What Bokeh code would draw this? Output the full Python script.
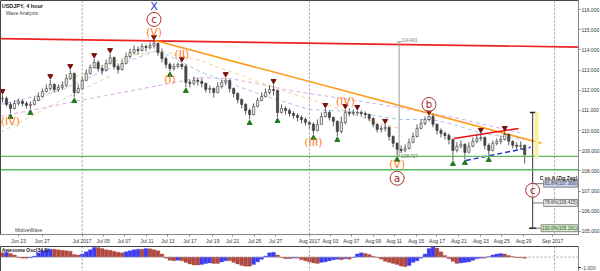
import numpy as np
from bokeh.plotting import figure
from bokeh.layouts import column
from bokeh.models import (Range1d, FixedTicker, Label, Span, ColumnDataSource,
                          BoxAnnotation, NumeralTickFormatter, CustomJSTickFormatter)
from bokeh.core.properties import value
from bokeh.embed import file_html
from bokeh.resources import INLINE

# ---------------- data (USDJPY 4h) ----------------
close = [111.59, 111.30, 111.10, 111.35, 111.45, 111.35, 111.25, 111.30, 111.50, 111.69,
         111.94, 112.09, 112.29, 112.04, 112.14, 112.24, 112.58, 112.83, 111.89, 112.09,
         112.49, 112.83, 113.13, 113.38, 113.08, 112.98, 113.33, 113.62, 113.18, 113.03,
         113.33, 113.67, 113.87, 114.02, 113.97, 114.17, 114.12, 114.22, 114.32, 113.87,
         113.57, 113.28, 113.08, 113.18, 113.28, 113.18, 112.39, 112.34, 112.49, 112.44,
         112.34, 112.04, 112.09, 111.89, 112.19, 112.39, 112.49, 112.09, 111.84, 111.54,
         111.30, 111.00, 110.80, 111.20, 111.50, 111.69, 111.89, 112.04, 111.99, 110.90,
         111.10, 111.00, 110.85, 110.75, 110.65, 110.55, 110.41, 110.31, 110.01, 110.31,
         110.70, 110.90, 110.65, 110.46, 109.96, 110.41, 110.90, 110.85, 110.90, 110.90,
         110.85, 110.80, 110.60, 110.31, 110.06, 110.11, 110.16, 109.71, 109.37, 109.07,
         109.02, 109.12, 109.42, 109.71, 110.11, 110.36, 110.55, 110.70, 110.31, 110.01,
         109.86, 109.76, 109.56, 109.02, 109.22, 109.32, 108.92, 109.22, 109.47, 109.61,
         109.66, 109.27, 109.02, 109.37, 109.47, 109.56, 109.81, 109.47, 109.27, 109.22,
         109.27, 108.82]
high = [111.79, 111.69, 111.40, 111.50, 111.59, 111.54, 111.45, 111.45, 111.69, 111.89,
        112.09, 112.29, 112.53, 112.34, 112.29, 112.44, 112.78, 113.03, 112.88, 112.29,
        112.68, 113.03, 113.28, 113.57, 113.48, 113.23, 113.52, 113.82, 113.67, 113.33,
        113.52, 113.87, 114.07, 114.22, 114.17, 114.32, 114.27, 114.37, 114.47, 114.37,
        114.07, 113.67, 113.38, 113.33, 113.38, 113.38, 113.28, 112.53, 112.68, 112.63,
        112.58, 112.39, 112.24, 112.14, 112.39, 112.53, 112.63, 112.53, 112.14, 111.89,
        111.59, 111.35, 111.10, 111.35, 111.64, 111.89, 112.09, 112.24, 112.29, 112.04,
        111.30, 111.20, 111.10, 110.95, 110.85, 110.75, 110.65, 110.50, 110.41, 110.55,
        110.90, 111.10, 111.00, 110.70, 110.50, 110.70, 111.05, 111.10, 111.05, 111.00,
        111.00, 110.95, 110.85, 110.65, 110.36, 110.26, 110.31, 110.21, 109.76, 109.42,
        109.27, 109.32, 109.61, 109.91, 110.31, 110.55, 110.70, 110.75, 110.85, 110.36,
        110.11, 109.96, 109.86, 109.61, 109.42, 109.51, 109.37, 109.42, 109.66, 109.81,
        109.86, 109.71, 109.37, 109.51, 109.61, 109.76, 109.96, 109.86, 109.51, 109.42,
        109.47, 109.32]
low = [111.40, 111.20, 110.85, 111.05, 111.25, 111.20, 111.10, 111.05, 111.25, 111.45,
       111.64, 111.89, 111.99, 111.89, 111.94, 112.04, 112.14, 112.53, 111.64, 111.84,
       112.04, 112.44, 112.78, 113.08, 112.93, 112.78, 112.93, 113.28, 113.03, 112.83,
       112.98, 113.28, 113.57, 113.77, 113.77, 113.92, 113.92, 114.02, 114.07, 113.72,
       113.38, 113.08, 112.93, 112.98, 113.08, 113.03, 112.14, 112.14, 112.24, 112.24,
       112.14, 111.89, 111.84, 111.64, 111.84, 112.09, 112.24, 111.89, 111.64, 111.35,
       111.10, 110.80, 110.55, 110.75, 111.15, 111.45, 111.64, 111.79, 111.74, 110.65,
       110.85, 110.80, 110.70, 110.60, 110.46, 110.36, 110.26, 110.11, 109.81, 109.96,
       110.31, 110.65, 110.50, 110.21, 109.71, 109.86, 110.31, 110.70, 110.75, 110.75,
       110.70, 110.60, 110.46, 110.16, 109.91, 109.91, 109.96, 109.51, 109.17, 108.73,
       108.87, 108.92, 109.07, 109.37, 109.66, 110.06, 110.26, 110.46, 110.16, 109.81,
       109.66, 109.56, 109.32, 108.52, 108.92, 109.12, 108.57, 108.87, 109.17, 109.37,
       109.47, 109.07, 108.72, 108.97, 109.27, 109.32, 109.51, 109.27, 109.12, 109.07,
       109.07, 108.37]
awesome_osc = [0.4, 0.45, 0.35, 0.2, -0.05, -0.1, -0.1, -0.05, 0.1, 0.4,
               0.6, 0.7, 0.75, 0.75, 0.7, 0.65, 0.6, 0.55, 0.25, 0.2,
               0.3, 0.5, 0.7, 0.9, 0.9, 0.8, 0.7, 0.65, 0.55, 0.45,
               0.4, 0.5, 0.6, 0.7, 0.75, 0.75, 0.8, 0.78, 0.7, 0.6,
               0.3, -0.1, -0.3, -0.35, -0.3, -0.35, -0.5, -0.65, -0.75, -0.75,
               -0.7, -0.6, -0.55, -0.6, -0.6, -0.45, -0.35, -0.35, -0.5, -0.65,
               -0.8, -0.85, -0.85, -0.7, -0.45, -0.2, 0.1, 0.4, 0.45, 0.2,
               -0.05, -0.15, -0.15, -0.1, -0.1, -0.25, -0.35, -0.45, -0.55, -0.6,
               -0.5, -0.45, -0.35, -0.25, -0.2, -0.25, -0.15, -0.2, -0.05, 0.3,
               0.4, 0.35, 0.25, 0.1, -0.05, -0.2, -0.4, -0.5, -0.6, -0.7,
               -0.85, -0.9, -0.8, -0.5, -0.35, -0.1, 0.3, 0.8, 1.05, 0.85,
               0.5, 0.15, -0.15, -0.4, -0.6, -0.55, -0.5, -0.45, -0.3, -0.15,
               -0.1, -0.1, 0.05, 0.2, 0.3, 0.35, 0.3, 0.15, 0.05, -0.05,
               -0.05, -0.1]

date_tick_pos = [4, 10, 20, 25.25, 30.5, 36.25, 41.5, 47, 52.75, 57.75, 63.25, 68.5,
                 77, 82.25, 87.5, 93, 98.25, 103.75, 109, 114.5, 120, 125.25, 130.75, 138]
date_tick_labels = ["Jun 23", "Jun 27", "Jul 2017", "Jul 05", "Jul 07", "Jul 11", "Jul 13",
                    "Jul 17", "Jul 19", "Jul 21", "Jul 25", "Jul 27", "Aug 2017", "Aug 03",
                    "Aug 07", "Aug 09", "Aug 11", "Aug 15", "Aug 17", "Aug 21", "Aug 23",
                    "Aug 25", "Aug 29", "Sep 2017"]
month_breaks = [20, 77, 138.5]
price_ticks = [105, 106, 107, 108, 109, 110, 111, 112, 113, 114, 115, 116]
osc_ticks = [-1]

# fractal pivots (bar indices)
pivot_tops = [0, 12, 17, 23, 27, 38, 45, 56, 68, 81, 86, 89, 96, 107, 120, 126]
pivot_bottoms = [2, 7, 18, 42, 46, 62, 69, 78, 84, 99, 113, 116, 122]

# Elliott wave labels: (text, bar, side)
wave_minor = [("(IV)", 2, "low"), ("(V)", 38, "high"), ("(I)", 42, "low"), ("(II)", 45, "high"),
              ("(III)", 78, "low"), ("(IV)", 86, "high"), ("(V)", 99, "low")]
wave_major = [("c", 38, "high"), ("a", 99, "low"), ("b", 107, "high")]

# trend lines (bar, price)
resistance_x, resistance_y = [-0.5, 144.5], [114.56, 114.14]
downtrend_x, downtrend_y = [38.25, 135.25], [114.47, 109.37]
tri_top_x, tri_top_y = [113.25, 129.5], [109.61, 110.11]
tri_bot_x, tri_bot_y = [116.25, 132.5], [108.52, 109.17]
support_levels = [108.72, 108.06]

# moving averages (bar, price)
ma_slow_x = [-0.5, 9.5, 19.5, 32.75, 49.5, 57, 66.25, 72, 87, 99.5, 114.5, 127, 130.75]
ma_slow_y = [110.70, 111.10, 111.50, 111.99, 112.63, 112.58, 112.24, 111.99, 111.54, 111.15,
             110.60, 110.01, 109.86]
ma_mid_x = [-0.5, 14.5, 24.5, 32, 38.75, 43.25, 49.5, 57.75, 66.25, 77, 87, 99.5, 107.75, 112, 120.25, 130.75]
ma_mid_y = [111.30, 111.99, 112.88, 113.48, 113.97, 113.57, 112.93, 112.29, 111.69, 111.05,
            110.95, 110.55, 110.55, 110.36, 109.86, 109.56]
ma_fast_x = [9.5, 16.25, 24.5, 32, 39.5, 49.5, 70.25, 82, 93.75, 99.5]
ma_fast_y = [111.50, 112.49, 113.18, 113.72, 113.97, 113.48, 111.99, 111.25, 110.41, 110.11]
ma_long_x = [-0.5, 9.5, 19.5, 27]
ma_long_y = [109.91, 110.95, 111.99, 112.70]

# projection (C vs A zig zag)
proj_bar = 133
proj_top = 110.90
fib_levels = [107.369, 106.415, 105.161]
fib_labels = ["61.8%(107.369)", "78.6%(106.415)", "100.0%(105.161)"]
fib_fill = ["#c9d3f2", "#eeeeee", "#d4f2c8"]
c_target = 107.04

measure_bar = 99.5
measure_top, measure_bot = 114.401, 108.727

# price tags on the right axis
tag_prices = [109.993, 108.82, 108.324]
tag_texts = ["109.993", "108.820", "108.324"]
tag_fill = ["#eeeeee", "#aab6ee", "#f2c4c4"]

# ---------------- figure ----------------
Y0, Y1 = 104.85, 116.45
FH = 234
PXU = FH / (Y1 - Y0)


def off(px):
    return px / PXU


FONT = "Liberation Sans"
p = figure(frame_width=578, frame_height=FH, x_range=Range1d(-0.5, 144.5),
           y_range=Range1d(Y0, Y1), output_backend="svg", toolbar_location=None,
           y_axis_location="right", min_border=0)
p.xgrid.visible = False
p.ygrid.visible = False
p.outline_line_color = "#444444"
p.background_fill_color = "white"

for ax in (p.xaxis, p.yaxis):
    ax.major_label_text_font_size = "5px"
    ax.major_label_text_font = FONT
    ax.major_label_text_color = "#333333"
    ax.major_tick_out = 2
    ax.major_tick_in = 0
    ax.minor_tick_out = 0
    ax.minor_tick_in = 0
    ax.axis_line_color = "#888888"
    ax.major_tick_line_color = "#888888"
    ax.major_label_standoff = 1
p.yaxis.ticker = FixedTicker(ticks=price_ticks)
p.yaxis.formatter = NumeralTickFormatter(format="0.000")
p.xaxis.ticker = FixedTicker(ticks=date_tick_pos)
p.xaxis.formatter = CustomJSTickFormatter(
    args=dict(pos=date_tick_pos, labels=date_tick_labels),
    code="const i = pos.findIndex(v => Math.abs(v - tick) < 1e-6); return i >= 0 ? labels[i] : '';")

for m in month_breaks:
    p.add_layout(Span(location=m, dimension="height", line_color="#999999",
                      line_dash="2 2", line_width=1))

# moving averages
p.line(ma_long_x, ma_long_y, line_color="#d8d8a0", line_dash="4 3", line_width=1)
p.line(ma_slow_x, ma_slow_y, line_color="#d9a9e3", line_dash="4 3", line_width=1)
p.line(ma_mid_x, ma_mid_y, line_color="#a9c4f0", line_dash="4 3", line_width=1)
p.line(ma_fast_x, ma_fast_y, line_color="#f8cf9a", line_dash="4 3", line_width=1)

# support lines
for lv in support_levels:
    p.add_layout(Span(location=lv, dimension="width", line_color="#5cb85c", line_width=1.3))

# resistance & trend lines
p.line(resistance_x, resistance_y, line_color="#ee2222", line_width=1.6)
p.line(downtrend_x, downtrend_y, line_color="#ff9a1a", line_width=1.6)
p.line(tri_top_x, tri_top_y, line_color="#ee1111", line_width=1.5)
p.line(tri_bot_x, tri_bot_y, line_color="#1a2ee8", line_width=1.5, line_dash="5 3")

# candles
n = len(close)
idx = np.arange(n)
opn = [close[0]] + close[:-1]
hi = [max(h, o, c) for h, o, c in zip(high, opn, close)]
lo = [min(l, o, c) for l, o, c in zip(low, opn, close)]
up = [c >= o for o, c in zip(opn, close)]
src = ColumnDataSource(dict(
    x=idx, o=opn, c=close, h=hi, l=lo,
    top=[max(o, c) for o, c in zip(opn, close)],
    bot=[min(o, c) for o, c in zip(opn, close)],
    fill=["#f2f2f2" if u else "#4a4a4a" for u in up]))
p.segment(x0="x", y0="l", x1="x", y1="h", source=src, line_color="#333333", line_width=0.8)
p.vbar(x="x", top="top", bottom="bot", width=0.55, source=src,
       fill_color="fill", line_color="#333333", line_width=0.6)

# fractal pivots
p.scatter(pivot_tops, [hi[i] + off(3.5) for i in pivot_tops], marker="inverted_triangle",
          size=5, color="#7a1010")
p.scatter(pivot_bottoms, [lo[i] - off(3.5) for i in pivot_bottoms], marker="triangle",
          size=5, color="#1c7a1c")

# measure line
p.segment([measure_bar], [measure_top], [measure_bar], [measure_bot], line_color="#9a9a9a", line_width=1)
p.segment([measure_bar - 0.6], [measure_top], [measure_bar + 0.6], [measure_top], line_color="#9a9a9a")
p.text([measure_bar + 0.6], [measure_top], text=["114.401"], text_font_size="4.5px",
       text_color="#777777", text_baseline="bottom", text_font=value(FONT))
p.text([measure_bar + 0.6], [measure_bot], text=["108.727"], text_font_size="4.5px",
       text_color="#777777", text_baseline="middle", text_font=value(FONT))

# projection
p.add_layout(BoxAnnotation(left=proj_bar + 0.5, right=proj_bar + 1.5, top=proj_top,
                           bottom=support_levels[0] - 0.05, fill_color="#f7f29a",
                           fill_alpha=1, line_alpha=0))
p.segment([proj_bar], [proj_top], [proj_bar], [fib_levels[-1]], line_color="#333333", line_width=1)
p.segment([proj_bar - 0.7, proj_bar - 0.9], [proj_top, fib_levels[-1]],
          [proj_bar + 0.7, proj_bar + 0.9], [proj_top, fib_levels[-1]], line_color="#222222", line_width=1.5)
p.segment([proj_bar] * 3, fib_levels, [137.3] * 3, fib_levels, line_color="#555555", line_width=0.8)
for lv, t, fc in zip(fib_levels, fib_labels, fib_fill):
    p.add_layout(Label(x=144.3, y=lv, text=t, text_font_size="4.5px", text_font=FONT,
                       text_align="right", text_baseline="middle", text_color="#333333",
                       background_fill_color=fc, border_line_color="#888888",
                       padding=1))
p.add_layout(Label(x=144.3, y=fib_levels[0] + off(6), text="C vs A (Zig Zag)",
                   text_font_size="5px", text_font=FONT, text_font_style="bold",
                   text_align="right", text_baseline="middle", text_color="#222222"))

# wave labels
p.text([b for _, b, _ in wave_minor],
       [hi[b] if s == "high" else lo[b] for _, b, s in wave_minor],
       text=[t for t, _, _ in wave_minor],
       y_offset=[-8 if s == "high" else 8 for _, _, s in wave_minor],
       text_align="center", text_baseline="middle", text_font_size="11px",
       text_color="#ff7f1f", text_font=value("DejaVu Sans"))

maj_x = [b for _, b, _ in wave_major] + [proj_bar]
maj_y = [hi[b] + off(21) if s == "high" and t == "c" else
         (hi[b] + off(11) if s == "high" else lo[b] - off(22)) for t, b, s in wave_major] + [c_target]
maj_t = [t for t, _, _ in wave_major] + ["c"]
p.scatter(maj_x, maj_y, marker="circle", size=14, fill_color="white", fill_alpha=0.6,
          line_color="#b03030", line_width=1)
p.text(maj_x, maj_y, text=maj_t, text_align="center", text_baseline="middle",
       text_font_size="10px", text_color="#9a1a1a", text_font=value("DejaVu Sans"))
p.text([38], [hi[38] + off(34)], text=["X"], text_align="center", text_baseline="middle",
       text_font_size="11px", text_color="#1a3acc", text_font=value("DejaVu Sans"))

# title
p.text([-0.2], [Y1 - off(2)], text=["USDJPY, 4 hour"], text_font_size="5.5px",
       text_font_style="bold", text_baseline="top", text_font=value(FONT), text_color="#222222")
p.text([0.8], [Y1 - off(9)], text=["Wave Analysis"], text_font_size="5px",
       text_baseline="top", text_font=value(FONT), text_color="#444444")
p.text([0.6], [Y0 + off(2)], text=["MotiveWave"], text_font_size="5px",
       text_baseline="bottom", text_font=value(FONT), text_color="#444444", x_offset=10)

# right price tags
for pr, t, fc in zip(tag_prices, tag_texts, tag_fill):
    p.add_layout(Label(x=144.5, y=pr, text=t, text_font_size="5px", text_font=FONT,
                       text_baseline="middle", text_color="#222222", x_offset=1,
                       background_fill_color=fc, border_line_color="#777777", padding=1))

# ---------------- oscillator ----------------
q = figure(frame_width=578, frame_height=26, x_range=p.x_range, y_range=Range1d(-1.45, 1.0),
           output_backend="svg", toolbar_location=None, y_axis_location="right", min_border=0)
q.xgrid.visible = False
q.ygrid.visible = False
q.xaxis.visible = False
q.outline_line_color = "#444444"
q.yaxis.ticker = FixedTicker(ticks=osc_ticks)
q.yaxis.formatter = NumeralTickFormatter(format="0.000")
q.yaxis.major_label_text_font_size = "5px"
q.yaxis.major_label_text_font = FONT
q.yaxis.major_tick_out = 2
q.yaxis.major_tick_in = 0
q.yaxis.minor_tick_out = 0
q.yaxis.major_label_standoff = 1
q.yaxis.axis_line_color = "#888888"
for m in month_breaks:
    q.add_layout(Span(location=m, dimension="height", line_color="#999999",
                      line_dash="2 2", line_width=1))
q.add_layout(Span(location=0, dimension="width", line_color="#aaaaaa", line_dash="2 2"))
ao_col = ["#3c3cf0" if (i > 0 and awesome_osc[i] > awesome_osc[i - 1]) else "#b04a40"
          for i in range(n)]
q.vbar(x=idx, top=awesome_osc, bottom=0, width=0.95, fill_color=ao_col, line_color=ao_col,
       line_width=0.3)
q.text([-0.2], [0.98], text=["Awesome Osc(34,5)"], text_font_size="5px", text_font_style="bold",
       text_baseline="top", text_font=value(FONT), text_color="#222222")
q.add_layout(Label(x=144.5, y=0, text="0.119", text_font_size="5px", text_font=FONT,
                   text_baseline="middle", x_offset=1, background_fill_color="#eeeeee",
                   border_line_color="#777777", padding=1))

layout = column(p, q, spacing=0)
open("out.html", "w").write(file_html(layout, INLINE))
